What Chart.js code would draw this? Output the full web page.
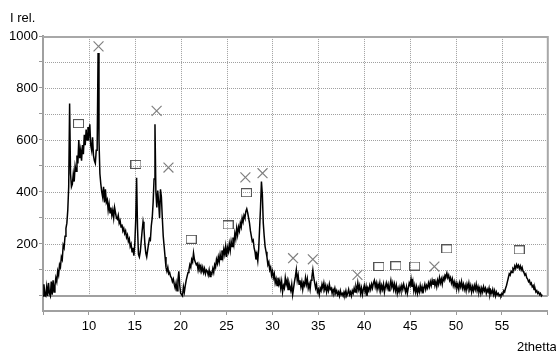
<!DOCTYPE html>
<html>
<head>
<meta charset="utf-8">
<script src="https://cdn.jsdelivr.net/npm/chart.js@4"></script>
<style>
  body { margin: 0; background: #fff; }
  canvas { display: block; }
</style>
</head>
<body>
<canvas id="xrdChart" width="556" height="351"></canvas>
<script>
// scan: 2theta from 5.0 step 0.1
const startAngle = 5.0;
const stepAngle = 0.1;
const intensity = [
  0, 45, 5, 0, 35, 0, 50, 10, 0, 55,            // 5
  5, 60, 15, 40, 70, 55, 95, 80, 120, 110,      // 6
  150, 140, 195, 185, 230, 260, 280, 330, 420, 740, // 7
  470, 420, 430, 470, 440, 500, 480, 540, 510, 600, // 8
  530, 560, 520, 580, 545, 620, 580, 640, 600, 650, // 9
  620, 660, 580, 560, 610, 540, 520, 510, 560, 560, // 10
  935, 600, 470, 430, 400, 380, 420, 360, 410, 360, // 11
  370, 330, 355, 320, 340, 310, 330, 300, 340, 320, // 12
  300, 295, 310, 280, 290, 265, 275, 250, 260, 240, // 13
  250, 225, 235, 210, 220, 190, 200, 170, 185, 155, // 14
  200, 290, 455, 260, 160, 150, 170, 210, 250, 285, // 15
  260, 200, 165, 150, 175, 200, 220, 215, 270, 300, // 16
  360, 450, 660, 400, 340, 405, 360, 300, 410, 380, // 17
  300, 230, 190, 150, 110, 95, 110, 85, 90, 75,     // 18
  70, 55, 65, 45, 30, 50, 20, 60, 95, 40,           // 19
  10, 5, 0, 35, 15, 40, 60, 75, 90, 100,            // 20
  120, 110, 140, 130, 165, 140, 130, 120, 125, 100, // 21
  120, 105, 115, 95, 110, 90, 105, 85, 100, 95,     // 22
  80, 100, 75, 90, 85, 105, 90, 120, 110, 140,      // 23
  125, 150, 130, 160, 140, 175, 150, 180, 160, 190, // 24
  150, 185, 170, 200, 175, 210, 190, 225, 200, 240, // 25
  220, 260, 235, 265, 250, 280, 265, 300, 285, 310, // 26
  300, 325, 335, 320, 300, 280, 250, 230, 210, 215, // 27
  185, 170, 140, 160, 135, 180, 260, 340, 440, 390, // 28
  280, 230, 190, 170, 150, 120, 130, 100, 110, 80,  // 29
  95, 70, 85, 50, 65, 40, 70, 45, 60, 30,           // 30
  55, 15, 40, 30, 70, 45, 60, 25, 50, 35,           // 31
  20, 45, 5, 30, 55, 75, 100, 60, 80, 45,           // 32
  60, 35, 55, 25, 50, 40, 70, 45, 65, 30,           // 33
  45, 25, 60, 75, 100, 70, 50, 30, 45, 15,          // 34
  25, 5, 30, 20, 45, 30, 50, 25, 40, 15,            // 35
  35, 20, 45, 25, 30, 10, 25, 15, 30, 10,           // 36
  20, 5, 15, 0, 20, 5, 10, 0, 15, 5,                // 37
  20, 0, 10, 25, 5, 15, 0, 20, 10, 30,              // 38
  15, 35, 20, 50, 25, 40, 10, 30, 5, 25,            // 39
  40, 15, 35, 0, 30, 20, 40, 25, 45, 30,            // 40
  50, 60, 35, 50, 25, 45, 30, 50, 20, 40,           // 41
  25, 45, 15, 35, 50, 30, 45, 20, 40, 60,           // 42
  35, 50, 25, 45, 20, 40, 10, 30, 15, 35,           // 43
  20, 40, 25, 45, 30, 15, 35, 10, 30, 50,           // 44
  40, 65, 35, 55, 20, 40, 15, 35, 10, 30,           // 45
  15, 40, 20, 35, 10, 30, 45, 25, 40, 30,           // 46
  50, 35, 55, 40, 60, 45, 65, 40, 55, 35,           // 47
  60, 45, 70, 50, 65, 45, 70, 60, 80, 75,           // 48
  88, 70, 80, 60, 70, 50, 65, 40, 55, 35,           // 49
  50, 30, 45, 25, 50, 35, 55, 30, 45, 25,           // 50
  40, 20, 45, 30, 50, 25, 40, 15, 35, 20,           // 51
  40, 25, 45, 20, 35, 15, 30, 10, 30, 15,           // 52
  35, 20, 30, 10, 25, 15, 30, 5, 20, 10,            // 53
  25, 5, 20, 0, 15, 5, 10, 0, 5, 0,                 // 54
  10, 5, 20, 15, 30, 40, 55, 70, 85, 80,            // 55
  95, 90, 105, 100, 115, 105, 120, 110, 118, 105,   // 56
  115, 100, 110, 95, 90, 80, 85, 70, 65, 55,        // 57
  60, 45, 50, 35, 40, 25, 30, 15, 20, 10,           // 58
  15, 5, 10, 0, 5                                   // 59
];

// phase markers
const squareX = [8.87, 15.13, 21.14, 25.16, 27.16, 41.6, 43.45, 45.5, 49.0, 56.88];
const squareY = [663, 506, 218, 273, 397, 113, 116, 115, 181, 177];
const crossX = [11.05, 17.38, 18.67, 27.05, 28.92, 32.25, 34.4, 39.26, 47.64];
const crossY = [960, 712, 494, 456, 472, 145, 141, 81, 113];

const xTicks = [10, 15, 20, 25, 30, 35, 40, 45, 50, 55];
const yLabels = [200, 400, 600, 800, 1000];

const scan = intensity.map((v, i) => ({ x: +(startAngle + i * stepAngle).toFixed(1), y: v }));

// hollow box marker
const boxMark = document.createElement('canvas');
boxMark.width = 11;
boxMark.height = 9;
const bctx = boxMark.getContext('2d');
bctx.strokeStyle = '#555';
bctx.lineWidth = 1;
bctx.strokeRect(0.5, 0.5, 10, 8);

const font = { family: '"Liberation Sans", Arial, sans-serif', size: 13 };

const frame = {
  id: 'frame',
  beforeDatasetsDraw(chart) {
    const { ctx, chartArea: a, scales } = chart;
    const xs = scales.x, ys = scales.y;
    const y0 = ys.getPixelForValue(0);
    const y1 = ys.getPixelForValue(1000);
    ctx.save();
    // dotted grid
    ctx.lineWidth = 1;
    ctx.strokeStyle = '#a0a0a0';
    ctx.setLineDash([1, 1]);
    for (let v = 100; v < 1000; v += 100) {
      const py = Math.round(ys.getPixelForValue(v)) + 0.5;
      ctx.beginPath();
      ctx.moveTo(a.left, py);
      ctx.lineTo(a.right, py);
      ctx.stroke();
    }
    // vertical lines only over the 0..1000 range
    for (const t of xTicks) {
      const px = Math.round(xs.getPixelForValue(t)) + 0.5;
      ctx.beginPath();
      ctx.moveTo(px, y0);
      ctx.lineTo(px, y1);
      ctx.stroke();
    }
    ctx.setLineDash([]);
    // zero line
    ctx.strokeStyle = '#a0a0a0';
    ctx.lineWidth = 2;
    ctx.beginPath();
    ctx.moveTo(a.left, Math.round(y0));
    ctx.lineTo(a.right, Math.round(y0));
    ctx.stroke();
    // top and right frame
    ctx.strokeStyle = '#a8a8a8';
    ctx.beginPath();
    ctx.moveTo(a.left, a.top + 1);
    ctx.lineTo(a.right, a.top + 1);
    ctx.moveTo(a.right, a.top);
    ctx.lineTo(a.right, y0);
    ctx.stroke();
    ctx.restore();
  },
  afterDraw(chart) {
    const { ctx } = chart;
    ctx.save();
    ctx.fillStyle = '#000';
    ctx.font = '13px "Liberation Sans", Arial, sans-serif';
    ctx.textBaseline = 'alphabetic';
    ctx.fillText('I rel.', 10, 22);
    ctx.fillText('2thetta', 517, 351);
    ctx.restore();
  }
};

new Chart(document.getElementById('xrdChart'), {
  type: 'line',
  data: {
    datasets: [{
      data: scan,
      borderColor: '#000',
      borderWidth: 1.5,
      pointRadius: 0,
      tension: 0
    }, {
      type: 'scatter',
      data: squareX.map((v, i) => ({ x: v, y: squareY[i] })),
      pointStyle: boxMark,
      pointRadius: 5
    }, {
      type: 'scatter',
      data: crossX.map((v, i) => ({ x: v, y: crossY[i] })),
      pointStyle: 'crossRot',
      pointRadius: 7,
      borderColor: '#808080',
      borderWidth: 1.2
    }]
  },
  options: {
    responsive: false,
    animation: false,
    layout: { padding: { top: 36, right: 1, left: 0, bottom: 0 } },
    plugins: { legend: { display: false }, tooltip: { enabled: false } },
    scales: {
      x: {
        type: 'linear',
        min: 5,
        max: 60,
        afterFit: s => { s.height = 40; },
        ticks: {
          stepSize: 5,
          color: '#000',
          font: font,
          padding: 4,
          maxRotation: 0,
          callback: v => xTicks.includes(v) ? v : ''
        },
        grid: { drawOnChartArea: false, tickLength: 4, tickColor: '#999' },
        border: { color: '#a0a0a0', width: 2 }
      },
      y: {
        min: -58,
        max: 1000,
        afterFit: s => { s.width = 43; },
        ticks: {
          stepSize: 100,
          color: '#000',
          font: font,
          padding: 1,
          callback: v => yLabels.includes(v) ? v : ''
        },
        grid: {
          drawOnChartArea: false,
          tickLength: 4,
          tickColor: c => c.tick && c.tick.value >= 0 ? '#999' : 'rgba(0,0,0,0)'
        },
        border: { color: '#a0a0a0', width: 2 }
      }
    }
  },
  plugins: [frame]
});
</script>
</body>
</html>
